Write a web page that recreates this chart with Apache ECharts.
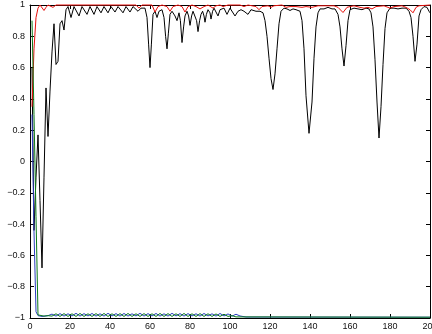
<!DOCTYPE html>
<html>
<head>
<meta charset="utf-8">
<script src="https://cdn.jsdelivr.net/npm/echarts@6/dist/echarts.min.js"></script>
<style>
  html, body { margin: 0; padding: 0; background: #fff; }
  #chart { width: 432px; height: 334px; }
</style>
</head>
<body>
<div id="chart"></div>
<script>
// ticks
const xTicks = [0, 20, 40, 60, 80, 100, 120, 140, 160, 180, 200]
const yTicks = [-1, -0.8, -0.6, -0.4, -0.2, 0, 0.2, 0.4, 0.6, 0.8, 1]

// black trace: [x, y]
const blackPts = [
  [1, 0.6], [2, -0.44], [3, -0.1], [4, 0.17], [5, -0.25], [6, -0.68], [7, -0.1], [8, 0.47],
  [9, 0.16], [10, 0.45], [11, 0.7], [12, 0.88], [13, 0.62], [14, 0.64], [15, 0.88], [16, 0.9],
  [17, 0.84], [18, 0.97], [19, 0.99], [20.5, 0.92], [22, 0.99], [23, 0.99], [24.5, 0.93],
  [26, 0.99], [27, 0.99], [28.5, 0.94], [30, 0.99], [31, 0.995], [32, 0.94], [33.5, 0.99],
  [34.5, 0.99], [35.5, 0.95], [37, 0.99], [38, 0.995], [39, 0.95], [40.5, 0.99], [41.5, 0.99],
  [42.5, 0.955], [44, 0.99], [45, 0.995], [46.5, 0.95], [48, 0.99], [49, 0.99], [50, 0.955],
  [51.5, 0.99], [52.5, 0.99], [54, 0.96], [55.5, 0.98], [56.5, 0.97], [57.5, 0.98], [58.5, 0.92],
  [59.3, 0.75], [60, 0.6], [60.7, 0.75], [61.5, 0.94], [62.5, 0.96], [63.5, 0.92], [64.5, 0.96],
  [66, 0.97], [67, 0.92], [67.8, 0.8], [68.5, 0.72], [69.2, 0.82], [70, 0.94], [71, 0.96],
  [72.5, 0.93], [73.5, 0.9], [74.5, 0.95], [75.2, 0.9], [76, 0.76], [76.8, 0.86], [77.5, 0.93],
  [78.5, 0.96], [79.3, 0.93], [80, 0.87], [80.8, 0.93], [81.5, 0.96], [82.5, 0.95], [83.3, 0.9],
  [84, 0.83], [84.8, 0.9], [85.5, 0.94], [86.3, 0.96], [87, 0.93], [87.5, 0.89], [88.2, 0.94],
  [89, 0.97], [90, 0.95], [90.5, 0.91], [91.3, 0.96], [92, 0.98], [93, 0.97], [94, 0.93],
  [95, 0.97], [96, 0.98], [97, 0.98], [98.5, 0.94], [100, 0.98], [101, 0.97], [102.5, 0.93],
  [104, 0.96], [105.5, 0.97], [107, 0.96], [109, 0.94], [110.5, 0.97], [111.5, 0.97], [113, 0.96],
  [115, 0.96], [116.5, 0.95], [117.5, 0.9], [118.5, 0.8], [119.5, 0.66], [120.5, 0.53],
  [121.5, 0.46], [122.5, 0.56], [123.5, 0.72], [124.5, 0.88], [125.5, 0.96], [127, 0.98],
  [128.5, 0.975], [130, 0.965], [131.5, 0.975], [133, 0.97], [134, 0.975], [135, 0.96], [136, 0.9],
  [137, 0.72], [138, 0.42], [139.5, 0.18], [141, 0.38], [142, 0.66], [143, 0.86], [144, 0.95],
  [145, 0.975], [147, 0.975], [149, 0.985], [151, 0.975], [152.5, 0.975], [154, 0.94], [155, 0.86],
  [156, 0.72], [157, 0.61], [158, 0.74], [159, 0.9], [160, 0.97], [162, 0.98], [164, 0.975],
  [166, 0.97], [168, 0.98], [169.5, 0.975], [170.5, 0.95], [171.5, 0.86], [172.5, 0.65],
  [173.5, 0.38], [174.5, 0.15], [175.5, 0.35], [176.5, 0.62], [177.5, 0.85], [178.5, 0.95],
  [180, 0.98], [182, 0.98], [184, 0.975], [186, 0.98], [188, 0.98], [189.5, 0.96], [190.5, 0.92],
  [191.5, 0.8], [192.5, 0.64], [193.5, 0.75], [194.5, 0.93], [195.5, 0.97], [197, 0.99],
  [198.5, 0.985], [199.5, 0.96], [200, 0.95]
]

// red trace
const redPts = [
  [1, 0.35], [2, 0.72], [3, 0.92], [4, 0.98], [5, 1.0], [6, 0.99], [7, 0.965], [8, 0.985],
  [9, 1.0], [10, 0.995], [11.5, 0.985], [13, 1.0], [14, 0.99], [15, 1.0], [53, 1.0], [54.5, 0.98],
  [56, 1.0], [61, 1.0], [62.5, 0.955], [64, 0.99], [66, 1.0], [68.5, 0.99], [70, 0.96],
  [71.5, 0.99], [74, 1.0], [76, 0.99], [77.5, 0.955], [79, 0.99], [81, 1.0], [83, 0.99],
  [85, 0.975], [87, 0.99], [89, 1.0], [90, 0.995], [91.5, 0.98], [93, 0.995], [95, 1.0],
  [96.5, 0.99], [97.5, 0.985], [99, 1.0], [105, 1.0], [107, 0.99], [109, 1.0], [113, 0.99],
  [114.5, 0.97], [116, 0.99], [119, 0.995], [120.5, 0.985], [122, 0.995], [126, 1.0], [128, 0.985],
  [130, 0.99], [131, 0.985], [133, 0.99], [136, 0.985], [138, 0.99], [141, 0.985], [144, 0.995],
  [152, 0.995], [154, 0.985], [156.5, 0.952], [158.5, 0.985], [160, 0.99], [162, 0.995],
  [165, 0.985], [167, 0.98], [169, 0.985], [171, 0.975], [173, 0.99], [177, 0.995], [180, 0.98],
  [182, 0.99], [186, 0.995], [188, 0.985], [190, 0.97], [191.5, 0.95], [193, 0.985],
  [194.5, 0.995], [200, 1.0]
]

// blue trace
const bluePts = [
  [1, 0.3], [2, -0.45], [3, -0.96], [4, -0.985], [6, -0.99], [9, -0.985], [11, -0.975],
  [13, -0.988], [15, -0.972], [17, -0.988], [19, -0.973], [21, -0.987], [23, -0.97], [25, -0.988],
  [27, -0.972], [29, -0.987], [31, -0.971], [33, -0.988], [35, -0.973], [37, -0.988], [39, -0.97],
  [41, -0.987], [43, -0.972], [45, -0.988], [47, -0.971], [49, -0.988], [51, -0.973], [53, -0.987],
  [55, -0.97], [57, -0.988], [59, -0.972], [61, -0.987], [63, -0.971], [65, -0.988], [67, -0.973],
  [69, -0.988], [71, -0.97], [73, -0.987], [75, -0.972], [77, -0.988], [79, -0.972], [81, -0.987],
  [83, -0.973], [85, -0.988], [87, -0.971], [89, -0.987], [91, -0.973], [93, -0.988], [95, -0.971],
  [97, -0.987], [99, -0.974], [101, -0.988], [103, -0.976], [105, -0.987], [108, -0.994],
  [200, -0.995]
]

// green trace
const greenPts = [
  [1, 0.9], [2, 0.3], [3, -0.35], [4, -0.98], [5, -0.975], [7, -0.988], [9, -0.985],
  [11, -0.988], [13, -0.973], [15, -0.99], [17, -0.972], [19, -0.99], [21, -0.973], [23, -0.99],
  [25, -0.971], [27, -0.99], [29, -0.973], [31, -0.99], [33, -0.972], [35, -0.99], [37, -0.971],
  [39, -0.99], [41, -0.973], [43, -0.99], [45, -0.972], [47, -0.99], [49, -0.971], [51, -0.99],
  [53, -0.973], [55, -0.99], [57, -0.972], [59, -0.99], [61, -0.973], [63, -0.99], [65, -0.971],
  [67, -0.99], [69, -0.972], [71, -0.99], [73, -0.973], [75, -0.99], [77, -0.971], [79, -0.99],
  [81, -0.973], [83, -0.99], [85, -0.972], [87, -0.99], [89, -0.973], [91, -0.99], [93, -0.974],
  [95, -0.99], [97, -0.976], [99, -0.99], [101, -0.985], [103, -0.993], [200, -0.995]
]

const fmt = v => {
  const s = String(Math.round(v * 10) / 10)
  return s.replace('-', '\u2212')
}

const tickStyle = { inside: true, length: 4, lineStyle: { color: '#000', width: 1 } }
const lineAxis = { show: true, onZero: false, lineStyle: { color: '#000', width: 1 } }
const labelStyle = { fontFamily: 'Liberation Sans', fontSize: 9, color: '#111' }

const chart = echarts.init(document.getElementById('chart'))
chart.setOption({
  animation: false,
  backgroundColor: '#fff',
  grid: { left: 30, right: 2, top: 5, bottom: 16, containLabel: false, outerBoundsMode: 'none' },
  xAxis: [
    {
      type: 'value', min: xTicks[0], max: xTicks[xTicks.length - 1], interval: 20,
      axisLine: lineAxis, axisTick: tickStyle, splitLine: { show: false },
      axisLabel: Object.assign({ margin: 4, formatter: v => String(v) }, labelStyle)
    },
    {
      type: 'value', position: 'top', min: 0, max: 200, interval: 20,
      axisLine: lineAxis, axisTick: tickStyle, splitLine: { show: false },
      axisLabel: { show: false }
    }
  ],
  yAxis: [
    {
      type: 'value', min: yTicks[0], max: yTicks[yTicks.length - 1], interval: 0.2,
      axisLine: lineAxis, axisTick: tickStyle, splitLine: { show: false },
      axisLabel: Object.assign({ margin: 5, formatter: fmt }, labelStyle)
    },
    {
      type: 'value', position: 'right', min: -1, max: 1, interval: 0.2,
      axisLine: lineAxis, axisTick: tickStyle, splitLine: { show: false },
      axisLabel: { show: false }
    }
  ],
  series: [
    { type: 'line', data: blackPts, showSymbol: false, clip: false,
      lineStyle: { color: '#000', width: 1 } },
    { type: 'line', data: redPts, showSymbol: false, clip: false,
      lineStyle: { color: '#e8100c', width: 1 } },
    { type: 'line', data: bluePts, showSymbol: false, clip: false,
      lineStyle: { color: '#2a3fc0', width: 1 } },
    { type: 'line', data: greenPts, showSymbol: false, clip: false,
      lineStyle: { color: '#0a7a1a', width: 1 } }
  ]
})
</script>
</body>
</html>
